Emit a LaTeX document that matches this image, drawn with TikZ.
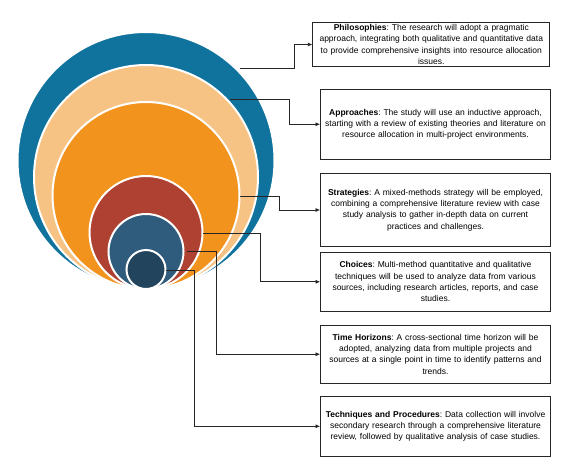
\documentclass[tikz,border=0pt]{standalone}
\usepackage{fontspec}
\setmainfont{Liberation Sans}
\usetikzlibrary{arrows.meta}
\definecolor{cBlue}{HTML}{10739E}
\definecolor{cLight}{HTML}{F7C384}
\definecolor{cOrange}{HTML}{F2931E}
\definecolor{cRed}{HTML}{AE4132}
\definecolor{cMid}{HTML}{2F5B7C}
\definecolor{cNavy}{HTML}{23445D}
\frenchspacing
\begin{document}
\begin{tikzpicture}[x=1pt,y=-1pt,
  ring/.style={draw=white,line width=2pt},
  infobox/.style={draw=black!85,line width=0.8pt,align=center,
    font=\fontsize{8.5}{11.3}\selectfont,inner sep=0pt,minimum width=230pt,text width=229pt},
  conn/.style={draw=black!85,line width=0.7pt,-{Latex[length=4.5pt,width=4pt]}}]
\useasboundingbox (0,0) rectangle (573,475);
% nested circles, all tangent at the bottom
\draw[ring,fill=cBlue]   (146,160.5) circle (128.5);
\draw[ring,fill=cLight]  (146,177)   circle (112);
\draw[ring,fill=cOrange] (146,195.5) circle (93.5);
\draw[ring,fill=cRed]    (146,232.5) circle (56.5);
\draw[ring,fill=cMid]    (146,251.5) circle (37.5);
\draw[ring,fill=cNavy]   (146,269.5) circle (19.5);
% boxes
\node[infobox,minimum width=237pt,text width=236pt,minimum height=44.5pt] (b1) at (431.3,44.5)
  {\textbf{Philosophies}: The research will adopt a pragmatic\\ approach, integrating both qualitative and quantitative data\\ to provide comprehensive insights into resource allocation\\ issues.};
\node[infobox,minimum height=70.5pt] (b2) at (435.5,124.2)
  {\textbf{Approaches}: The study will use an inductive approach,\\ starting with a review of existing theories and literature on\\ resource allocation in multi-project environments.};
\node[infobox,minimum height=73.4pt] (b3) at (435.5,210)
  {\textbf{Strategies}: A mixed-methods strategy will be employed,\\ combining a comprehensive literature review with case\\ study analysis to gather in-depth data on current\\ practices and challenges.};
\node[infobox,minimum height=58.3pt] (b4) at (435.5,281.8)
  {\textbf{Choices}: Multi-method quantitative and qualitative\\ techniques will be used to analyze data from various\\ sources, including research articles, reports, and case\\ studies.};
\node[infobox,minimum height=58.3pt] (b5) at (435.5,354.2)
  {\textbf{Time Horizons}: A cross-sectional time horizon will be\\ adopted, analyzing data from multiple projects and\\ sources at a single point in time to identify patterns and\\ trends.};
\node[infobox,minimum height=59.3pt] (b6) at (435.5,426.3)
  {\textbf{Techniques and Procedures}: Data collection will involve\\ secondary research through a comprehensive literature\\ review, followed by qualitative analysis of case studies.};
% connector start points on the rings
\coordinate (s1) at (240,68);
\coordinate (s2) at (230,99.3);
\coordinate (s3) at (240,196);
\coordinate (s4) at (202.7,233.3);
\coordinate (s5) at (186.7,251.7);
\coordinate (s6) at (165.7,270);
\draw[conn] (s1) -- ++(54,0) |- (b1.west);
\draw[conn] (s2) -- ++(59.3,0) |- (b2.west);
\draw[conn] (s3) -- ++(39.3,0) |- (b3.west);
\draw[conn] (s4) -- ++(58,0) |- (b4.west);
\draw[conn] (s5) -- ++(30,0) |- (b5.west);
\draw[conn] (s6) -- ++(28.3,0) |- (b6.west);
\end{tikzpicture}
\end{document}
